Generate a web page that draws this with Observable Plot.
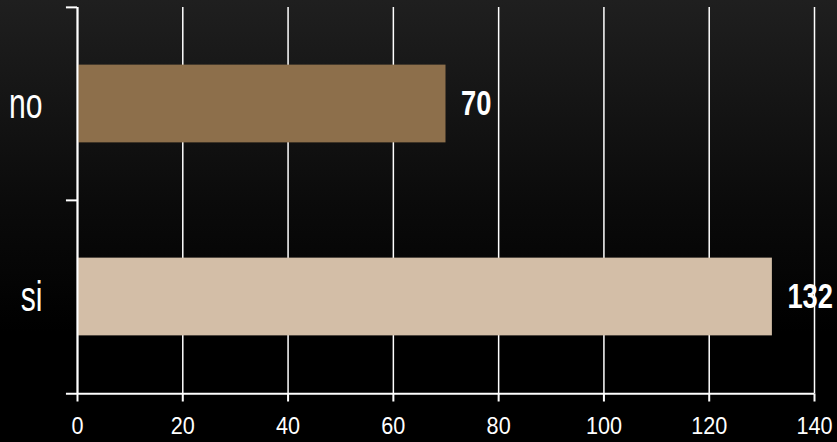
<!DOCTYPE html>
<html>
<head>
<meta charset="utf-8">
<script src="https://cdn.jsdelivr.net/npm/d3@7"></script>
<script src="https://cdn.jsdelivr.net/npm/@observablehq/plot@0.6"></script>
<style>
  html, body { margin: 0; padding: 0; }
  body {
    width: 837px; height: 442px; overflow: hidden;
    background: linear-gradient(to bottom, #1f1f1f 0%, #0b0b0b 45%, #000 75%, #000 100%);
    font-family: "Liberation Sans", Arial, sans-serif;
  }
  svg { display: block; }
</style>
</head>
<body>
<div id="chart"></div>
<script>
const categories = ["no", "si"];
const values = [70, 132];
const colors = ["#8d6f4b", "#d3bea7"];
const xTicks = [0, 20, 40, 60, 80, 100, 120, 140];

const data = categories.map((c, i) => ({category: c, value: values[i], color: colors[i]}));

const W = 837, H = 442;
const marginTop = 7, marginBottom = 48.5, marginLeft = 77, marginRight = 23;
const bandH = (H - marginTop - marginBottom) / categories.length;
const barH = 78;
const inset = (bandH - barH) / 2;

const chart = Plot.plot({
  width: W,
  height: H,
  marginTop, marginBottom, marginLeft, marginRight,
  style: {background: "transparent", color: "white", fontFamily: "'Liberation Sans', Arial, sans-serif"},
  x: {domain: [0, 140], ticks: xTicks, label: null},
  y: {domain: categories, padding: 0, label: null},
  marks: [
    Plot.gridX(xTicks, {stroke: "white", strokeOpacity: 1, strokeWidth: 1.5}),
    Plot.barX(data, {y: "category", x: "value", fill: d => d.color, insetTop: inset, insetBottom: inset}),
    Plot.ruleX([0], {stroke: "white", strokeWidth: 2}),
    Plot.ruleY(categories, {y: d => d, dy: -bandH / 2, x1: -2.1, x2: 0, stroke: "white", strokeWidth: 2}),
    Plot.ruleY([categories[categories.length - 1]], {dy: bandH / 2, x1: -2.1, x2: 140, stroke: "white", strokeWidth: 2}),
    Plot.axisX(xTicks, {tickSize: 8, tickPadding: 15, fontSize: 24, stroke: "white", strokeWidth: 2, color: "white", label: null}),
    Plot.axisY({tickSize: 0, tickPadding: 35, fontSize: 43, fill: "white", label: null}),
    Plot.text(data, {y: "category", x: "value", text: d => String(d.value), dx: 15, textAnchor: "start", fontSize: 35, fontWeight: "bold", fill: "white"})
  ]
});
document.getElementById("chart").appendChild(chart);

// emulate the narrow (condensed) typeface of the original by compressing text horizontally
const squeeze = {"x-axis tick label": 0.9, "y-axis tick label": 0.7, "text": 0.78};
chart.querySelectorAll("g[aria-label]").forEach(g => {
  const s = squeeze[g.getAttribute("aria-label")];
  if (!s) return;
  g.querySelectorAll("text").forEach(t => {
    const bb = t.getBBox();
    const anchor = getComputedStyle(t).textAnchor;
    const ax = anchor === "end" ? bb.x + bb.width : anchor === "middle" ? bb.x + bb.width / 2 : bb.x;
    const prev = t.getAttribute("transform") || "";
    t.setAttribute("transform", `${prev} translate(${ax},0) scale(${s},1) translate(${-ax},0)`);
  });
});
</script>
</body>
</html>
